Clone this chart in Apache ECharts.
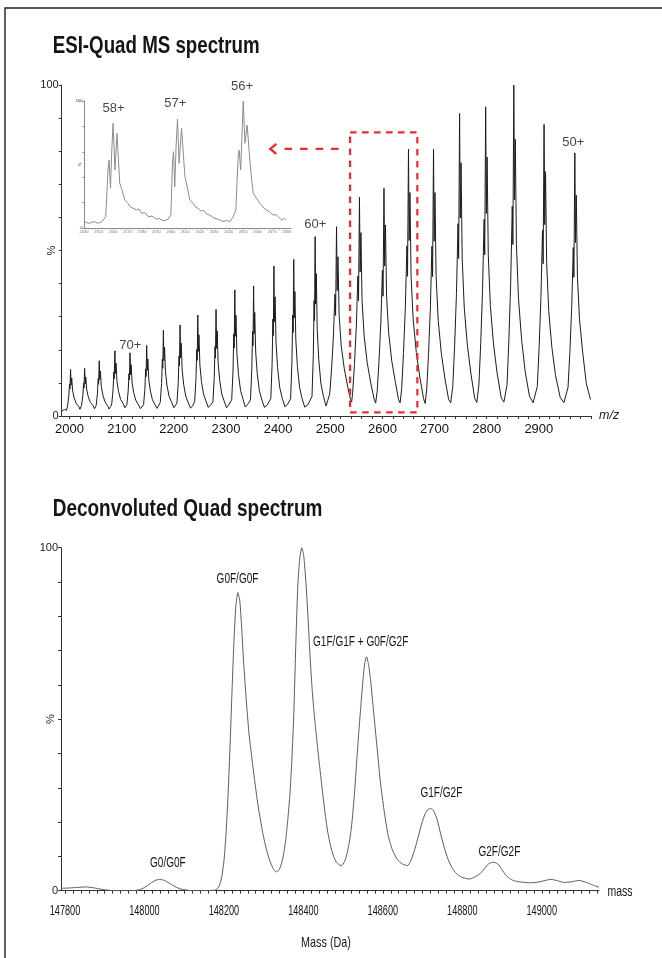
<!DOCTYPE html>
<html><head><meta charset="utf-8">
<script src="https://cdn.jsdelivr.net/npm/echarts@6/dist/echarts.min.js"></script>
<style>html,body{margin:0;padding:0;background:#fff;}#c{width:662px;height:958px;}</style>
</head><body><div id="c"></div>
<script>
// ---------- DATA ----------
const msXTicks = [2000, 2100, 2200, 2300, 2400, 2500, 2600, 2700, 2800, 2900];
const yLabelValues = [0, 100];
const msSpectrum = [
[1985,1.4],[1990,2.0],[1994,1.7],
[1996,2.8],[1998.5,5.8],[2000,9.6],[2000.8,8.2],[2002,14.1],[2003,9.3],[2004.2,11.5],[2006,7.6],[2009,5.4],[2013,3.8],[2018,2.8],[2020,2.0],
[2023,3.2],[2025.5,6.1],[2027,9.9],[2027.8,8.5],[2029,14.4],[2030,9.7],[2031.2,11.8],[2033,7.9],[2036,5.8],[2040,4.1],[2045,3.2],[2048,2.2],
[2051,3.1],[2053.5,6.7],[2055,11.3],[2055.8,9.6],[2057,16.7],[2058,11.0],[2059.2,13.6],[2061,8.8],[2064,6.3],[2068,4.3],[2073,3.1],[2076,2.1],[2079,2.9],
[2081,3.7],[2083.5,7.9],[2085,13.3],[2085.8,11.3],[2087,19.7],[2088,12.9],[2089.2,16.0],[2091,10.4],[2094,7.4],[2098,5.0],[2103,3.7],[2106,2.5],
[2110,3.4],[2112.5,7.6],[2114,12.8],[2114.8,10.9],[2116,19.1],[2117,12.5],[2118.2,15.5],[2120,10.0],[2123,7.1],[2127,4.8],[2132,3.4],[2136,2.2],[2139,2.8],
[2142,3.4],[2144.5,8.1],[2146,14.2],[2146.8,11.9],[2148,21.3],[2149,13.8],[2150.2,17.2],[2152,11.0],[2155,7.6],[2159,4.9],[2164,3.4],[2168,2.3],[2171,2.9],
[2174,4.1],[2176.5,9.8],[2178,17.2],[2178.8,14.4],[2180,25.9],[2181,16.7],[2182.2,20.8],[2184,13.3],[2187,9.1],[2191,5.9],[2196,4.1],[2200,2.5],[2203,3.1],
[2206,3.9],[2208.5,10.1],[2210,18.1],[2210.8,15.1],[2212,27.5],[2213,17.6],[2214.2,22.0],[2216,13.9],[2219,9.4],[2223,5.9],[2228,3.9],[2232,2.4],[2236,3.0],
[2240,4.4],[2242.5,11.3],[2244,20.1],[2244.8,16.8],[2246,30.5],[2247,19.5],[2248.2,24.5],[2250,15.4],[2253,10.4],[2257,6.6],[2262,4.4],[2266,2.6],[2270,3.2],
[2275,4.3],[2277.5,11.6],[2279,21.0],[2279.8,17.5],[2281,32.2],[2282,20.4],[2283.2,25.7],[2285,16.0],[2288,10.7],[2292,6.6],[2297,4.3],[2301,2.5],[2305,3.3],
[2311,4.9],[2313.5,13.6],[2315,24.8],[2315.8,20.6],[2317,38.1],[2318,24.1],[2319.2,30.4],[2321,18.9],[2324,12.6],[2328,7.7],[2333,4.9],[2337,2.7],[2341,3.4],
[2347,4.8],[2349.5,13.9],[2351,25.5],[2351.8,21.2],[2353,39.3],[2354,24.8],[2355.2,31.3],[2357,19.3],[2360,12.8],[2364,7.7],[2369,4.8],[2374,2.6],[2379,3.3],
[2386,5.3],[2388.5,15.8],[2390,29.3],[2390.8,24.3],[2392,45.3],[2393,28.5],[2394.2,36.0],[2396,22.2],[2399,14.6],[2403,8.7],[2408,5.3],[2413,2.8],[2418,3.5],
[2424,5.2],[2426.5,16.3],[2428,30.5],[2428.8,25.2],[2430,47.3],[2431,29.6],[2432.2,37.6],[2434,22.9],[2437,15.0],[2441,8.8],[2446,5.2],[2451,2.7],[2457,3.4],
[2465,5.9],[2467.5,18.6],[2469,34.9],[2469.8,28.8],[2471,54.2],[2472,33.8],[2473.2,43.0],[2475,26.2],[2478,17.0],[2482,9.9],[2487,5.9],[2492,3.0],[2495,3.4],
[2499,6.7],[2502.5,14.2],[2506,23.9],[2509,36.8],[2510.2,30.4],[2512,57.2],[2513.3,37.9],[2514.8,48.1],[2517,30.4],[2521,21.2],[2527,14.2],[2534,8.4],[2539,4.9],[2541,4.2],
[2543,7.2],[2546.5,15.9],[2550,27.2],[2553,42.3],[2554.2,34.8],[2556,66.1],[2557.3,43.5],[2558.8,55.4],[2561,34.8],[2565,24.1],[2571,15.9],[2578,9.7],[2584,5.2],[2587,3.9],
[2590,7.5],[2593.5,16.6],[2597,28.4],[2600,44.0],[2601.2,36.2],[2603,68.8],[2604.3,45.3],[2605.8,57.7],[2608,36.2],[2612,25.1],[2618,16.6],[2625,10.1],[2631,4.9],[2634,4.0],
[2637,8.4],[2640.5,19.2],[2644,33.0],[2647,51.4],[2648.2,42.2],[2650,80.6],[2651.3,53.0],[2652.8,67.5],[2655,42.2],[2659,29.1],[2665,19.2],[2672,11.5],[2679,5.2],[2682,3.8],
[2685,8.1],[2688.5,18.9],[2692,32.8],[2695,51.3],[2696.2,42.1],[2698,80.6],[2699.3,52.8],[2700.8,67.5],[2703,42.1],[2707,28.9],[2713,18.9],[2720,11.2],[2727,5.0],[2731,4.0],
[2735,9.0],[2738.5,21.2],[2742,37.0],[2745,58.1],[2746.2,47.6],[2748,91.4],[2749.3,59.8],[2750.8,76.5],[2753,47.6],[2757,32.6],[2763,21.2],[2770,12.5],[2777,5.3],[2781,4.1],
[2785,9.3],[2788.5,21.8],[2792,37.9],[2795,59.4],[2796.2,48.7],[2798,93.4],[2799.3,61.2],[2800.8,78.2],[2803,48.7],[2807,33.4],[2813,21.8],[2820,12.9],[2828,5.4],[2833,4.2],
[2839,9.4],[2842.5,22.9],[2846,40.2],[2849,63.4],[2850.2,51.8],[2852,100],[2853.3,65.3],[2854.8,83.6],[2857,51.8],[2861,35.4],[2867,22.9],[2874,13.2],[2882,6.0],[2889,4.0],
[2897,8.9],[2900.5,20.7],[2904,35.8],[2907,56.1],[2908.2,46.0],[2910,88.1],[2911.3,57.8],[2912.8,73.8],[2915,46.0],[2919,31.6],[2925,20.7],[2932,12.2],[2941,5.6],[2948,4.0],
[2956,8.7],[2959.5,19.3],[2963,32.8],[2966,50.9],[2967.2,41.9],[2969,79.5],[2970.3,52.4],[2971.8,66.7],[2974,41.9],[2978,29.1],[2984,19.3],[2991,9.8],[2999,5.0]
];
const chargeLabels = ['70+', '60+', '50+'];
const chargeMz = [2116, 2471, 2969];
const chargePct = [19.1, 54.2, 79.5];

const insetXTicks = [2540, 2550, 2560, 2570, 2580, 2590, 2600, 2610, 2620, 2630, 2640, 2650, 2660, 2670, 2680];
const insetSpectrum = [
[2540.5,5.0],[2542,4.1],[2543.9,3.7],[2545.5,4.6],[2547.4,5.0],[2549,3.9],[2550.9,4.2],[2552.5,5.1],[2553.8,6.3],[2555.0,8.9],
[2556.6,45.7],[2557.3,53.5],[2558.3,31.3],[2559.2,61.4],[2560.1,82.4],[2561.4,45.7],[2562.8,74.6],[2564.7,35.2],[2565.9,31.3],
[2568.2,22.0],[2570.4,19.4],[2571.5,17.0],[2572.8,18.2],[2576.2,14.2],[2578,14.9],[2579.7,11.6],[2582,12.3],[2584.3,8.9],[2587,9.4],[2590.1,6.9],[2592,7.6],[2594.6,5.7],[2596.5,6.2],[2598.1,6.9],[2600.0,10.2],
[2601.1,50.9],[2601.8,60.1],[2602.7,32.5],[2603.6,64.0],[2604.6,85.6],[2605.7,50.9],[2607.4,78.5],[2609.7,40.4],[2610.8,35.2],
[2613.1,22.0],[2615.4,19.4],[2617,16.6],[2618.9,15.5],[2621,13.2],[2622.5,14.0],[2624.7,11.0],[2627,10.2],[2628.5,8.8],[2630.4,7.6],[2633,6.8],[2636.1,5.0],[2638.5,5.9],[2640.8,5.0],[2643.1,8.9],[2644.9,14.2],
[2646.5,56.1],[2647.2,61.4],[2648.2,45.7],[2649.1,71.9],[2650.0,100],[2651.2,66.7],[2652.7,81.1],[2655.1,45.7],[2656.9,27.3],
[2659.3,23.4],[2661.5,19.4],[2663,17.6],[2664.3,15.5],[2666,14.3],[2667.3,12.8],[2669,12.0],[2670.7,10.2],[2672.5,10.6],[2674.2,8.9],[2676.5,6.3],[2678,7.4],[2679.3,6.9]
];
const insetChargeLabels = ['58+', '57+', '56+'];
const insetChargeMz = [2560.1, 2604.6, 2650.0];
const insetChargePct = [82.4, 85.6, 100];

// zoomed m/z window shown in the inset and the arrow pointing to it
const zoomWindowMz = [2538, 2667];
const zoomWindowPct = [1.1, 85.7];
const arrowMz = [2516, 2385];
const arrowPct = 80.7;

const massTicks = [147800, 148000, 148200, 148400, 148600, 148800, 149000];
const deconvSpectrum = [
[147791,0.7],[147812,0.8],[147830,0.95],[147852,1.1],[147872,0.85],[147892,0.4],[147912,0.1],[147940,0.0],[147965,0.0],[147985,0.2],
[148000,0.9],[148015,2.1],[148027,3.0],[148038,3.3],[148050,3.0],[148065,2.0],[148080,1.0],[148095,0.4],[148114,0.05],[148140,0.0],[148160,0.0],
[148175,0.1],[148180,0.3],[148185,0.8],[148190,1.9],[148195,4.3],[148200,8.6],[148205,16.0],[148210,26.8],[148215,40.9],[148220,56.9],[148225,72.0],[148230,82.9],[148235,86.9],
[148240,84.5],[148245,76],[148250,66],[148256,56],[148263,46],[148273,36.2],[148285,25.5],[148298,16.7],[148307,12],[148315,8.9],[148325,6.2],[148332,5.5],[148338,5.9],
[148341,6.6],[148346,8.4],[148351,11.2],[148356,15.2],[148361,21],[148366,28],[148371,38],[148376,52],[148381,72],[148386,89],[148391,97],[148396,100],
[148401,97.5],[148406,90.5],[148411,81],[148416,70],[148421,60.5],[148426,53],[148431,47],[148436,41.5],[148441,36.2],[148446,31],[148451,26],[148456,21.3],[148462,16.7],[148468,13.3],[148476,10],[148484,8.2],[148494,7.3],
[148499,7.6],[148504,8.6],[148509,10.4],[148514,13.2],[148519,16.7],[148524,22],[148529,29],[148534,37.5],[148539,45.5],[148544,53],[148549,60],[148554,66],[148559,68.2],
[148564,66],[148569,61.5],[148574,55.6],[148579,49.5],[148586,41],[148594,31.5],[148603,23.5],[148613,16.3],[148624,11.9],[148637,9.0],[148649,7.8],[148662,7.3],
[148670,8.6],[148678,11.2],[148687,14.8],[148696,18.8],[148704,21.7],[148712,23.5],[148720,24.0],
[148728,23.3],[148737,20.6],[148745,16.8],[148754,12.8],[148764,9.2],[148775,6.5],[148785,5.0],[148796,4.1],[148808,3.6],[148817,3.4],
[148832,4.0],[148846,5.1],[148855,6.3],[148863,7.5],[148870,8.1],[148877,8.3],[148884,8.1],[148892,7.5],[148900,6.1],[148909,4.6],[148917,3.7],[148926,3.1],[148937,2.7],
[148950,2.5],[148972,2.3],[148995,2.6],[149023,3.3],[149040,2.9],[149056,2.4],[149075,2.6],[149094,3.0],[149110,2.5],[149125,1.8],[149144,1.0]
];
const glycoLabels = ['G0/G0F', 'G0F/G0F', 'G1F/G1F + G0F/G2F', 'G1F/G2F', 'G2F/G2F'];
const glycoMass = [148038, 148235, 148559, 148720, 148877];
const glycoPct = [3.3, 86.9, 68.2, 24.0, 8.3];

// ---------- LAYOUT / STYLE ----------
const SANS = '"Liberation Sans", Arial, sans-serif';
const RED = '#ee2a31';
const INK = '#151515';
const chargeOffsets = [[0.3, 0], [0.2, -4.9], [-1.5, -3.7]];
const insetOffsets = [[0.4, -7.8], [-2.2, -9.3], [-1.1, -7.5]];
const glycoShift = [[8.3, -16.5], [-0.3, -13.7], [-5.9, -15], [10.8, -15.5], [6.5, -10.6]];
const NARROW_SCALE = 0.67;   // emulate the condensed typeface of the original

function ticksEvery(a, b, step) { const t = []; for (let v = a; v <= b + 1e-9; v += step) t.push(v); return t; }
function labelItems(names, xs, ys, offs) {
  return names.map((n, i) => ({ name: n, value: [xs[i], ys[i]], label: { offset: offs[i] } }));
}
const plain = v => String(v);

const chart = echarts.init(document.getElementById('c'), null, { renderer: 'canvas', width: 662, height: 958 });

const yAxisBase = (grid, fs, color, tickLen, gap) => ({
  gridIndex: grid, type: 'value', min: 0, max: 100, interval: 10,
  axisLine: { show: true, lineStyle: { color: color, width: 1 } },
  axisTick: { show: true, length: tickLen, lineStyle: { color: color } },
  axisLabel: { customValues: yLabelValues, formatter: plain, fontSize: fs, color: '#222', fontFamily: SANS, margin: fs > 6 ? 3 : 1.5 },
  splitLine: { show: false },
  name: '%', nameLocation: 'middle', nameRotate: 90, nameGap: gap, nameMoveOverlap: false,
  nameTextStyle: { fontSize: fs, color: '#222', fontFamily: SANS }
});

chart.setOption({
  animation: false,
  backgroundColor: '#fff',
  grid: [
    { left: 61.7, top: 85, width: 529.3, height: 331 },
    { left: 84, top: 101, width: 207, height: 127 },
    { left: 61, top: 547.7, width: 538, height: 343 }
  ],
  xAxis: [
    { gridIndex: 0, type: 'value', min: 1985, max: 3000,
      axisLine: { lineStyle: { color: '#333', width: 1 } },
      axisTick: { customValues: ticksEvery(2000, 3000, 20), length: 3, lineStyle: { color: '#333' } },
      axisLabel: { customValues: msXTicks, formatter: plain, fontSize: 13, color: '#111', fontFamily: SANS, margin: 7 },
      splitLine: { show: false },
      name: 'm/z', nameLocation: 'end', nameGap: 8,
      nameTextStyle: { fontStyle: 'italic', fontSize: 12.5, color: '#222', fontFamily: SANS } },
    { gridIndex: 1, type: 'value', min: 2540, max: 2683,
      axisLine: { lineStyle: { color: '#888', width: 1 } },
      axisTick: { customValues: ticksEvery(2540, 2680, 5), length: 1.5, lineStyle: { color: '#999' } },
      axisLabel: { customValues: insetXTicks, formatter: plain, fontSize: 4, color: '#777', fontFamily: SANS, margin: 2 },
      splitLine: { show: false } },
    { gridIndex: 2, type: 'value', min: 147790, max: 149144,
      axisLine: { lineStyle: { color: '#333', width: 1 } },
      axisTick: { customValues: ticksEvery(147800, 149140, 20), length: 3, lineStyle: { color: '#333' } },
      axisLabel: { show: false },
      splitLine: { show: false } }
  ],
  yAxis: [
    yAxisBase(0, 11, '#333', 3, 4),
    Object.assign(yAxisBase(1, 4, '#888', 1.5, 2), { interval: 20 }),
    yAxisBase(2, 11, '#333', 3, 5)
  ],
  series: [
    { type: 'line', xAxisIndex: 0, yAxisIndex: 0, data: msSpectrum, showSymbol: false, silent: true,
      lineStyle: { color: '#1c1c1c', width: 1 } },
    { type: 'line', xAxisIndex: 1, yAxisIndex: 1, data: insetSpectrum, showSymbol: false, silent: true,
      lineStyle: { color: '#8c8c8c', width: 1 } },
    { type: 'line', xAxisIndex: 2, yAxisIndex: 2, data: deconvSpectrum, showSymbol: false, silent: true,
      smooth: 0.2, lineStyle: { color: '#5c5c5c', width: 1 } },
    { type: 'scatter', xAxisIndex: 0, yAxisIndex: 0, symbolSize: 1, itemStyle: { color: 'rgba(0,0,0,0)' }, silent: true,
      data: labelItems(chargeLabels, chargeMz, chargePct, chargeOffsets),
      label: { show: true, position: 'top', distance: 0, formatter: '{b}', fontSize: 13, color: INK, fontFamily: SANS } },
    { type: 'scatter', xAxisIndex: 1, yAxisIndex: 1, symbolSize: 1, itemStyle: { color: 'rgba(0,0,0,0)' }, silent: true,
      data: labelItems(insetChargeLabels, insetChargeMz, insetChargePct, insetOffsets),
      label: { show: true, position: 'top', distance: 0, formatter: '{b}', fontSize: 13, color: INK, fontFamily: SANS } }
  ]
});

// ---------- annotations placed through the chart's own scales ----------
const px = (g, v) => chart.convertToPixel({ gridIndex: g }, v);
const p0 = px(0, [zoomWindowMz[0], zoomWindowPct[1]]);
const p1 = px(0, [zoomWindowMz[1], zoomWindowPct[0]]);
const a0 = px(0, [arrowMz[0], arrowPct]);
const a1 = px(0, [arrowMz[1], arrowPct]);
const massAxisY = px(2, [massTicks[0], 0])[1];
const massAxisEnd = px(2, [149144, 0])[0];

const narrowText = (text, x, y, font, align, scale) => ({
  type: 'text', silent: true, x: x, y: y, scaleX: scale,
  style: { text: text, font: font, fill: INK, align: align, verticalAlign: 'middle' }
});

const graphics = [
  { type: 'rect', silent: true, shape: { x: 5, y: 8, width: 720, height: 1000 },
    style: { fill: 'none', stroke: '#1e1e1e', lineWidth: 1.4 } },
  narrowText('ESI-Quad MS spectrum', 52.7, 46.5, 'bold 24px ' + SANS, 'left', 0.78),
  narrowText('Deconvoluted Quad spectrum', 52.7, 509.5, 'bold 24px ' + SANS, 'left', 0.79),
  { type: 'rect', silent: true, z: 10, shape: { x: p0[0], y: p0[1], width: p1[0] - p0[0], height: p1[1] - p0[1] },
    style: { fill: 'none', stroke: RED, lineWidth: 2.2, lineDash: [6.5, 5.5] } },
  { type: 'line', silent: true, z: 10, shape: { x1: a0[0], y1: a0[1], x2: a1[0] + 9, y2: a1[1] },
    style: { stroke: RED, lineWidth: 2.2, lineDash: [7.5, 8] } },
  { type: 'polyline', silent: true, z: 10, shape: { points: [[a1[0] + 6, a1[1] - 5], [a1[0], a1[1]], [a1[0] + 6, a1[1] + 5]] },
    style: { fill: 'none', stroke: RED, lineWidth: 2.4 } },
  narrowText('mass', massAxisEnd + 8.5, massAxisY + 1, '15px ' + SANS, 'left', 0.7),
  narrowText('Mass (Da)', 326, 943, '15px ' + SANS, 'center', 0.72)
];
massTicks.forEach(v => {
  const p = px(2, [v, 0]);
  graphics.push(narrowText(String(v), p[0], p[1] + 20.5, '14.5px ' + SANS, 'center', 0.63));
});
glycoLabels.forEach((name, i) => {
  const p = px(2, [glycoMass[i], glycoPct[i]]);
  graphics.push(narrowText(name, p[0] + glycoShift[i][0], p[1] + glycoShift[i][1], '15px ' + SANS, 'center', NARROW_SCALE));
});
chart.setOption({ graphic: graphics });
</script>
</body></html>
